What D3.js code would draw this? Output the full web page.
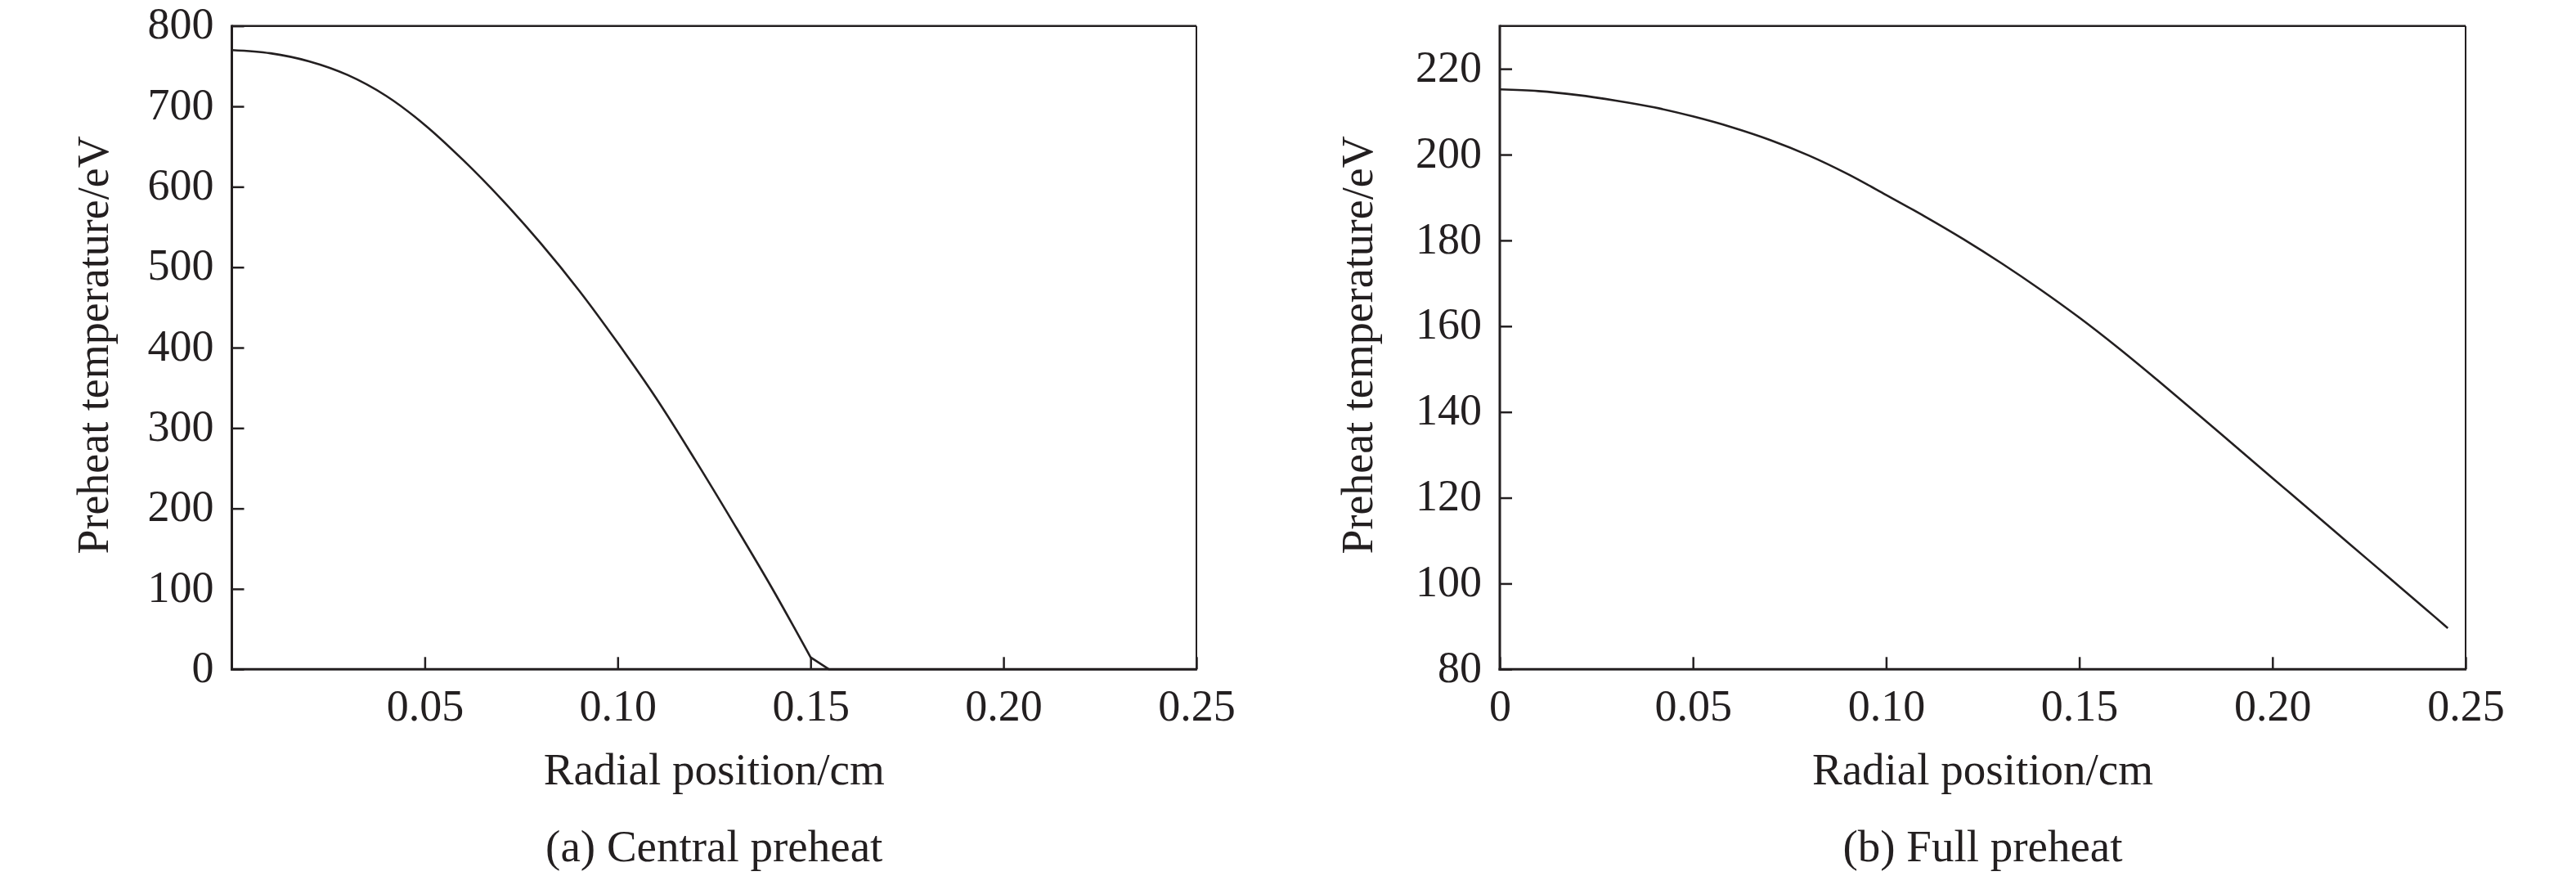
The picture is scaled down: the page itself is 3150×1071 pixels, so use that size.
<!DOCTYPE html>
<html>
<head>
<meta charset="utf-8">
<script src="https://cdn.jsdelivr.net/npm/d3@7"></script>
<style>
  html, body { margin: 0; padding: 0; background: #fff; }
  svg text { font-family: "Liberation Serif", "Times New Roman", serif; fill: #231f20; }
</style>
</head>
<body>
<svg id="chart" width="3150" height="1071"></svg>
<script>
// ---- Data ----
const centralRadius = [0, 0.01, 0.02, 0.03, 0.04, 0.05, 0.06, 0.07, 0.08, 0.09, 0.10, 0.11, 0.12, 0.13, 0.14, 0.15, 0.1548, 0.20, 0.25];
const centralTemp   = [770, 766, 756, 739, 713, 677, 633, 584, 530, 471, 406, 337, 261, 182, 101, 15, 0, 0, 0];
// index in the central series where the curve kinks into a straight drop to zero
const centralKinkIndex = 15;

const fullRadius = [0, 0.01, 0.02, 0.03, 0.04, 0.05, 0.06, 0.07, 0.08, 0.09, 0.10, 0.11, 0.12, 0.13, 0.14, 0.15, 0.16, 0.17, 0.18, 0.19, 0.20, 0.21, 0.22, 0.23, 0.24, 0.2454];
const fullTemp   = [215.2, 214.8, 213.9, 212.6, 211.0, 208.9, 206.4, 203.4, 199.8, 195.5, 190.6, 185.6, 180.3, 174.6, 168.5, 162.0, 155.0, 147.6, 140.0, 132.3, 124.6, 116.9, 109.2, 101.5, 93.8, 89.6];

const centralXTicks = [0.05, 0.10, 0.15, 0.20, 0.25];
const centralYTicks = [0, 100, 200, 300, 400, 500, 600, 700, 800];
const fullXTicks = [0, 0.05, 0.10, 0.15, 0.20, 0.25];
const fullYTicks = [80, 100, 120, 140, 160, 180, 200, 220];

const xTitle = "Radial position/cm";
const yTitle = "Preheat temperature/eV";
const captions = ["(a) Central preheat", "(b) Full preheat"];

// ---- Drawing ----
const svg = d3.select("#chart");
svg.append("rect").attr("width", 3150).attr("height", 1071).attr("fill", "#fff");
const ink = "#231f20";
const fs = 54;

function panel(opt) {
  const { left, right, top, bottom, xDomain, yDomain, xTicks, yTicks, xs, ys, kink, caption, yTitleX, xFmt } = opt;
  const x = d3.scaleLinear().domain(xDomain).range([left, right]);
  const y = d3.scaleLinear().domain(yDomain).range([bottom, top]);
  const g = svg.append("g");

  // frame
  g.append("line").attr("x1", left).attr("x2", right).attr("y1", top).attr("y2", top)
    .attr("stroke", ink).attr("stroke-width", 2.5);
  g.append("line").attr("x1", right).attr("x2", right).attr("y1", top).attr("y2", bottom)
    .attr("stroke", ink).attr("stroke-width", 2);

  // x axis
  const xa = g.append("g").attr("transform", `translate(0,${bottom})`)
    .call(d3.axisBottom(x).tickValues(xTicks).tickFormat(xFmt).tickSizeInner(-15).tickSizeOuter(0).tickPadding(24));
  xa.select(".domain").remove();
  xa.selectAll(".tick line").attr("stroke", ink).attr("stroke-width", 2.5);
  xa.selectAll(".tick text").attr("font-size", fs).attr("fill", ink);
  g.append("line").attr("x1", left - 1.5).attr("x2", right + 1).attr("y1", bottom).attr("y2", bottom)
    .attr("stroke", ink).attr("stroke-width", 3);

  // y axis
  const ya = g.append("g").attr("transform", `translate(${left},0)`)
    .call(d3.axisLeft(y).tickValues(yTicks).tickFormat(d3.format("d")).tickSizeInner(-15).tickSizeOuter(0).tickPadding(22));
  ya.select(".domain").remove();
  ya.selectAll(".tick line").attr("stroke", ink).attr("stroke-width", 2.5);
  ya.selectAll(".tick text").attr("font-size", fs).attr("fill", ink).attr("dy", "0.28em");
  g.append("line").attr("x1", left).attr("x2", left).attr("y1", top - 1.25).attr("y2", bottom + 1.5)
    .attr("stroke", ink).attr("stroke-width", 3);

  // curve: smooth part, then straight part after the kink (if any)
  const pts = xs.map((d, i) => [d, ys[i]]);
  const head = kink == null ? pts : pts.slice(0, kink + 1);
  const tail = kink == null ? [] : pts.slice(kink);
  const smooth = d3.line().x(d => x(d[0])).y(d => y(d[1])).curve(d3.curveCatmullRom.alpha(0.5));
  const straight = d3.line().x(d => x(d[0])).y(d => y(d[1]));
  let dStr = smooth(head);
  if (tail.length > 1) dStr += straight(tail).replace(/^M[^L]*/, "");
  g.append("path")
    .attr("fill", "none").attr("stroke", ink).attr("stroke-width", 2.6)
    .attr("stroke-linejoin", "round")
    .attr("d", dStr);

  const cx = (left + right) / 2;
  g.append("text").attr("x", cx).attr("y", 959).attr("text-anchor", "middle")
    .attr("font-size", fs + 1).text(xTitle);
  g.append("text").attr("x", cx).attr("y", 1053).attr("text-anchor", "middle")
    .attr("font-size", fs + 1).text(caption);
  const cy = (top + bottom) / 2 - 3;
  g.append("text").attr("transform", `translate(${yTitleX},${cy}) rotate(-90)`)
    .attr("text-anchor", "middle").attr("font-size", fs).text(yTitle);
}

const fmtX = d => d === 0 ? "0" : d3.format(".2f")(d);

panel({
  left: 283.5, right: 1463, top: 31.7, bottom: 818.3,
  xDomain: [0, 0.25], yDomain: [0, 800],
  xTicks: centralXTicks, yTicks: centralYTicks,
  xs: centralRadius, ys: centralTemp, kink: centralKinkIndex,
  caption: captions[0], yTitleX: 132, xFmt: fmtX
});

panel({
  left: 1834, right: 3015, top: 31.7, bottom: 818.3,
  xDomain: [0, 0.25], yDomain: [80, 230],
  xTicks: fullXTicks, yTicks: fullYTicks,
  xs: fullRadius, ys: fullTemp, kink: null,
  caption: captions[1], yTitleX: 1678, xFmt: fmtX
});
</script>
</body>
</html>
